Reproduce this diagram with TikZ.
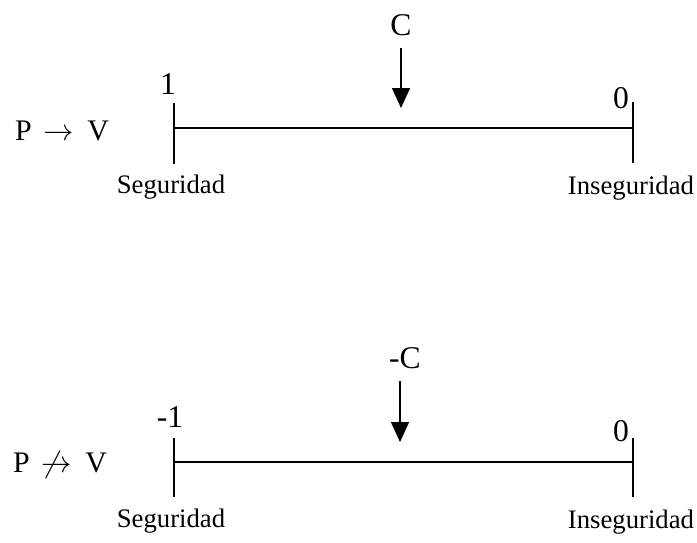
\documentclass[tikz,border=0pt]{standalone}
\usepackage{fontspec}
\setmainfont{Liberation Serif}
\usetikzlibrary{arrows.meta,positioning}

\begin{document}
\begin{tikzpicture}[
    x=0.02cm, y=-0.02cm,
    lbl/.style={inner sep=0pt, font=\fontsize{15.2}{18}\selectfont},
    impl/.style={inner sep=0pt, font=\fontsize{17}{20}\selectfont},
    num/.style={inner sep=0pt, font=\fontsize{18}{21}\selectfont},
    scaleline/.style={line width=1.1pt},
    tickmark/.style={line width=1.4pt},
    pointer/.style={-{Triangle[length=0.4cm, width=0.36cm]}, line width=0.8pt, shorten <=0.24cm}
]
\useasboundingbox (0,0) rectangle (697,542);
\node[impl] (implA) at (62,131) {P\hspace{0.4em}$\rightarrow$\hspace{0.45em}V};
\coordinate (segA) at (174,128);
\coordinate (insA) at (633,128);
\draw[scaleline] (segA) -- (insA);
\draw[tickmark] (segA) ++(0,-25) -- ++(0,61);
\draw[tickmark] (insA) ++(0,-26) -- ++(0,61);
\node[num] (oneA) at (168,84) {1};
\node[num] (zeroA) at (621,98) {0};
\node[num] (cA) at (401,25) {C};
\coordinate (tipA) at (401,108);
\draw[pointer] (cA) -- (tipA);
\node[lbl, anchor=base] (segLblA) at (171,193) {Seguridad};
\node[lbl, anchor=base] (insLblA) at (631,194) {Inseguridad};
\node[impl] (implB) at (60,465) {P\hspace{0.4em}$\not\rightarrow$\hspace{0.45em}V};
\coordinate (segB) at (174,462);
\coordinate (insB) at (633,462);
\draw[scaleline] (segB) -- (insB);
\draw[tickmark] (segB) ++(0,-24) -- ++(0,59);
\draw[tickmark] (insB) ++(0,-24) -- ++(0,59);
\node[num] (oneB) at (170,417) {-1};
\node[num] (zeroB) at (621,431) {0};
\node[num] (cB) at (405,358) {-C};
\coordinate (tipB) at (400,442);
\draw[pointer] (cB.south -| tipB) -- (tipB);
\node[lbl, anchor=base] (segLblB) at (171,527) {Seguridad};
\node[lbl, anchor=base] (insLblB) at (631,528) {Inseguridad};
\end{tikzpicture}
\end{document}
